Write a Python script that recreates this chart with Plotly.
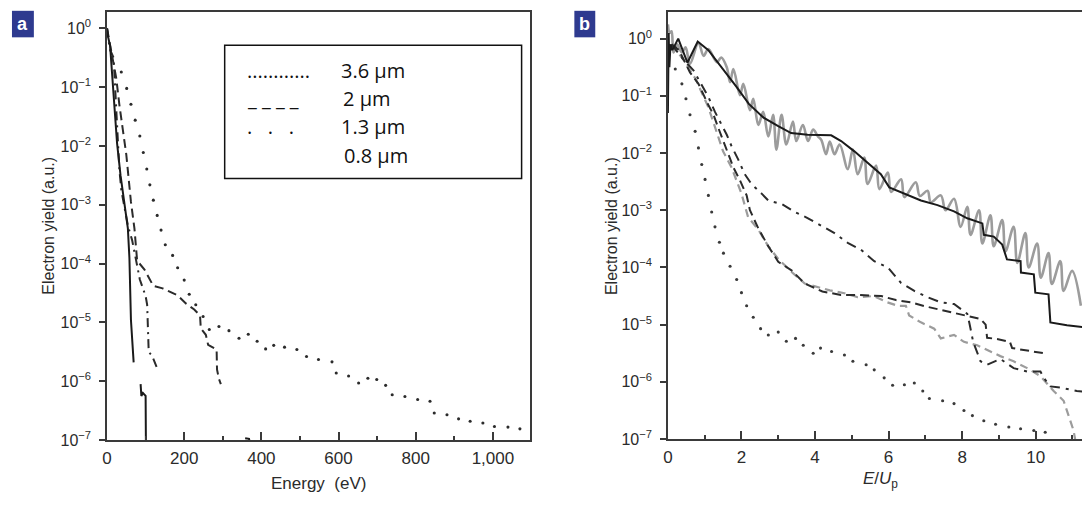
import plotly.graph_objects as go

W, H = 1082, 506


def px(x):
    return x / W


def py(y):
    return 1 - y / H


def vals(logs):
    return [None if v is None else 10 ** v for v in logs]


# ---------------- Panel a : yield vs energy (eV), exponents of 10 ----------------
a_dot36_E = [37, 51, 62, 73, 85, 94, 103, 111, 120, 130, 140, 151, 170, 183, 200, 213, 230, 249, 265,
             290, 316, 342, 366, 389, 411, 432, 460, 492, 517, 548, 583, 594, 626, 652, 676, 699, 722,
             739, 772, 805, 837, 848, 881, 911, 941, 974, 1004, 1039, 1070]
a_dot36_log = [-0.74, -1.02, -1.29, -1.56, -1.83, -2.11, -2.39, -2.66, -2.92, -3.18, -3.43, -3.68,
               -3.86, -4.07, -4.28, -4.52, -4.7, -4.9, -5.12, -5.07, -5.14, -5.27, -5.2, -5.32, -5.45,
               -5.39, -5.42, -5.46, -5.58, -5.63, -5.67, -5.86, -5.91, -6.03, -5.95, -5.97, -6.07,
               -6.23, -6.26, -6.31, -6.34, -6.54, -6.57, -6.64, -6.68, -6.71, -6.77, -6.78, -6.81]

a_dash2_E = [0, 4, 8, 16, 24, 32, 41, 50, 56, 62, 71, 75, 78, 97, 120, 144, 170, 183, 205, 226,
             241, 243, 256, 262, 284, 285, 290, 295]
a_dash2_log = [0, -0.15, -0.3, -0.6, -0.85, -1.3, -1.72, -2.15, -2.55, -2.95, -3.4, -3.75, -3.95,
               -4.1, -4.38, -4.42, -4.5, -4.54, -4.68, -4.78, -4.88, -5.1, -5.21, -5.38, -5.46,
               -5.8, -5.96, -6.05]

a_dd13_E = [0, 4, 7, 17, 22, 28, 32, 37, 44, 54, 65, 75, 80, 85, 100, 104, 106, 108, 117, 131]
a_dd13_log = [0, -0.2, -0.35, -0.5, -1.1, -1.7, -2.4, -2.75, -3.0, -3.35, -3.6, -3.9, -4.1, -4.27,
              -4.55, -4.7, -5.0, -5.5, -5.57, -5.8]

a_sol08_E = [0, 3, 8, 12, 20, 26, 35, 45, 54, 58, 62, 69, None, 87, 89, 93, 100, 101, None,
             358, 368, 372]
a_sol08_log = [0, -0.15, -0.3, -0.7, -1.4, -1.95, -2.5, -3.0, -3.4, -3.9, -4.96, -5.68, None,
               -6.05, -6.25, -6.2, -6.25, -7.3, None, -6.97, -6.98, -7.1]

a_xticks_step = 200
a_yticks = [1e-7, 1e-6, 1e-5, 1e-4, 1e-3, 1e-2, 1e-1, 1]
a_yticktext = ["10<sup>−7</sup>", "10<sup>−6</sup>", "10<sup>−5</sup>", "10<sup>−4</sup>",
               "10<sup>−3</sup>", "10<sup>−2</sup>", "10<sup>−1</sup>", "10<sup>0</sup>"]

legend_labels = ["3.6 µm", "2 µm", "1.3 µm", "0.8 µm"]
legend_samples = ["............", "_ _ _ _", ".   .   .", ""]

# ---------------- Panel b : yield vs E/Up, exponents of 10 ----------------
b_sol_x = [0, 0.02, 0.04, 0.07, 0.12, 0.28, 0.53, 0.81, 1.1, 1.46, 1.85, 2.2, 2.6, 3.0, 3.35, 3.8,
           4.17, 4.44, 4.71, 5.07, 5.43, 5.79, 6.02, 6.43, 6.88, 7.33, 7.78, 8.14, 8.55, 8.59, 8.86,
           9.09, 9.22, 9.59, 9.6, 9.95, 9.99, 10.35, 10.4, 10.85, 11.27]
b_sol_log = [-1.3, 0.1, -0.5, -0.1, -0.2, 0.0, -0.42, -0.05, -0.2, -0.5, -0.83, -1.14, -1.38,
             -1.53, -1.65, -1.68, -1.68, -1.69, -1.79, -1.97, -2.17, -2.37, -2.6, -2.71, -2.83,
             -2.91, -3.02, -3.14, -3.23, -3.43, -3.46, -3.6, -3.86, -3.89, -4.09, -4.12, -4.44,
             -4.47, -4.96, -5.01, -5.04]

b_gray_x = [0, 0.05, 0.1, 0.15, 0.25, 0.38, 0.48, 0.6, 0.83, 0.97, 1.1, 1.33, 1.45, 1.6, 1.69,
            1.78, 1.96, 2.05, 2.23, 2.32, 2.46, 2.59, 2.73, 2.86, 2.95, 3.09, 3.22, 3.4, 3.49,
            3.67, 3.81, 3.95, 4.08, 4.17, 4.3, 4.4, 4.53, 4.67, 4.89, 5.03, 5.16, 5.34, 5.43, 5.66,
            5.75, 5.98, 6.07, 6.34, 6.43, 6.74, 6.85, 7.06, 7.15, 7.42, 7.55, 7.78, 7.96, 8.14,
            8.23, 8.46, 8.55, 8.77, 8.86, 9.09, 9.18, 9.4, 9.5, 9.72, 9.81, 10.04, 10.14, 10.35,
            10.44, 10.67, 10.76, 10.99, 11.23]
b_gray_log = [0.25, 0.1, 0.13, -0.24, -0.1, -0.24, -0.15, -0.44, -0.07, -0.3, -0.18, -0.41,
              -0.33, -0.5, -0.76, -0.53, -0.99, -0.79, -1.25, -1.05, -1.51, -1.28, -1.71, -1.33,
              -1.94, -1.33, -1.85, -1.45, -1.79, -1.51, -1.79, -1.59, -1.71, -1.77, -2.02, -1.8,
              -2.02, -1.85, -2.28, -1.94, -2.37, -2.08, -2.54, -2.22, -2.63, -2.34, -2.68, -2.46,
              -2.77, -2.51, -2.75, -2.66, -2.86, -2.74, -3.0, -2.8, -3.29, -2.94, -3.43, -3.0,
              -3.58, -3.09, -3.63, -3.17, -3.72, -3.29, -3.92, -3.4, -4.0, -3.58, -4.18, -3.75,
              -4.29, -3.89, -4.41, -4.06, -4.67]

b_dash_x = [0.1, 0.3, 0.6, 0.83, 1.1, 1.24, 1.37, 1.55, 1.78, 1.96, 2.14, 2.23, 2.46, 2.73, 3.0,
            3.36, 3.72, 4.2, 4.7, 5.2, 5.8, 6.2, 6.6, 7.0, 7.6, 8.1, 8.5, 8.64, 8.68, 8.95, 9.3,
            9.36, 9.68, 10.22]
b_dash_log = [-0.1, -0.2, -0.59, -0.79, -1.16, -1.33, -1.56, -1.85, -2.25, -2.48, -2.74, -3.0,
              -3.32, -3.63, -3.9, -4.05, -4.28, -4.42, -4.48, -4.48, -4.5, -4.57, -4.61, -4.68,
              -4.77, -4.84, -4.9, -5.0, -5.23, -5.25, -5.3, -5.41, -5.44, -5.5]

b_gdash_x = [0.1, 0.4, 0.75, 1.1, 1.5, 1.73, 2.0, 2.18, 2.46, 2.73, 3.0, 3.4, 3.72, 4.1, 4.4, 4.8,
             5.16, 5.6, 5.97, 6.25, 6.47, 6.56, 6.88, 7.24, 7.42, 7.78, 8.05, 8.41, 8.77, 9.04,
             9.4, 9.77, 10.13, 10.49, 10.76, 10.94, 11.03, 11.1]
b_gdash_log = [-0.1, -0.35, -0.7, -1.2, -1.97, -2.25, -2.71, -3.12, -3.34, -3.63, -3.85, -4.1,
               -4.28, -4.35, -4.4, -4.45, -4.52, -4.5, -4.61, -4.67, -4.67, -4.84, -4.96, -5.07,
               -5.24, -5.18, -5.3, -5.36, -5.47, -5.55, -5.64, -5.76, -5.9, -6.16, -6.33, -6.68,
               -6.85, -7.1]

b_dd_x = [0.1, 0.4, 0.7, 0.92, 1.1, 1.28, 1.42, 1.6, 1.73, 1.91, 2.09, 2.27, 2.55, 2.73, 3.09,
          3.45, 3.81, 4.17, 4.53, 4.89, 5.25, 5.61, 5.98, 6.34, 6.7, 7.06, 7.42, 7.78, 8.14, 8.2,
          8.3, 8.5, 8.68, 9.04, 9.4, 9.77, 10.13, 10.22, 10.4, 10.67, 11.12, 11.3]
b_dd_log = [-0.1, -0.35, -0.56, -0.82, -1.02, -1.28, -1.45, -1.68, -1.88, -2.11, -2.37, -2.54,
            -2.71, -2.83, -2.89, -3.03, -3.14, -3.27, -3.4, -3.57, -3.69, -3.89, -4.0, -4.27,
            -4.41, -4.52, -4.61, -4.64, -4.81, -4.98, -5.3, -5.64, -5.7, -5.6, -5.76, -5.82,
            -5.82, -5.93, -6.08, -6.1, -6.16, -6.17]

b_dot_x = [0.2, 0.38, 0.49, 0.6, 0.74, 0.83, 0.92, 1.01, 1.1, 1.19, 1.28, 1.4, 1.51, 1.69, 1.87,
           2.0, 2.14, 2.32, 2.52, 2.73, 3.0, 3.22, 3.47, 3.68, 3.95, 4.15, 4.45, 4.8, 5.03, 5.39,
           5.61, 5.88, 6.11, 6.43, 6.7, 6.93, 7.11, 7.47, 7.78, 8.05, 8.28, 8.59, 8.91, 9.27,
           9.59, 9.95, 10.26]
b_dot_log = [-0.53, -0.79, -1.05, -1.33, -1.62, -1.91, -2.2, -2.46, -2.74, -3.03, -3.29, -3.56,
             -3.75, -3.98, -4.21, -4.44, -4.67, -4.87, -5.07, -5.18, -5.13, -5.29, -5.24, -5.36,
             -5.5, -5.41, -5.47, -5.53, -5.64, -5.7, -5.79, -5.93, -6.06, -6.05, -6.02, -6.16,
             -6.29, -6.33, -6.38, -6.5, -6.59, -6.68, -6.74, -6.79, -6.82, -6.85, -6.88]

b_xticks_step = 2

# ---------------- styles ----------------
INK = "#2b2b2b"
AX = "#3a3a3a"
YTICK_FONT = dict(family="Liberation Sans, Arial, sans-serif", size=16, color=INK)
XTICK_FONT = dict(family="Liberation Sans Narrow, Liberation Sans, Arial, sans-serif", size=17, color=INK)
TITLE_FONT = dict(family="Liberation Sans Narrow, Liberation Sans, Arial, sans-serif", size=17, color=INK)
YTITLE_FONT = dict(family="Liberation Sans, Arial, sans-serif", size=16, color=INK)
LEG_FONT = dict(family="Open Sans, Noto Sans, sans-serif", size=20, color="#111")

fig = go.Figure()

# panel a traces
fig.add_trace(go.Scatter(x=a_dot36_E, y=vals(a_dot36_log), mode="markers",
                         marker=dict(size=3.1, color=INK), xaxis="x", yaxis="y"))
fig.add_trace(go.Scatter(x=a_dash2_E, y=vals(a_dash2_log), mode="lines",
                         line=dict(color=INK, width=2, dash="9px,5px"), xaxis="x", yaxis="y"))
fig.add_trace(go.Scatter(x=a_dd13_E, y=vals(a_dd13_log), mode="lines",
                         line=dict(color=INK, width=2, dash="9px,5px,2px,5px"), xaxis="x", yaxis="y"))
fig.add_trace(go.Scatter(x=a_sol08_E, y=vals(a_sol08_log), mode="lines",
                         line=dict(color="#1a1a1a", width=2), xaxis="x", yaxis="y"))

# panel b traces
fig.add_trace(go.Scatter(x=b_gray_x, y=vals(b_gray_log), mode="lines",
                         line=dict(color="#9c9c9c", width=2.6, shape="spline", smoothing=1.0),
                         xaxis="x2", yaxis="y2"))
fig.add_trace(go.Scatter(x=b_gdash_x, y=vals(b_gdash_log), mode="lines",
                         line=dict(color="#9c9c9c", width=2.2, dash="8px,5px"), xaxis="x2", yaxis="y2"))
fig.add_trace(go.Scatter(x=b_dot_x, y=vals(b_dot_log), mode="markers",
                         marker=dict(size=3.1, color="#3a3a3a"), xaxis="x2", yaxis="y2"))
fig.add_trace(go.Scatter(x=b_dash_x, y=vals(b_dash_log), mode="lines",
                         line=dict(color=INK, width=2, dash="9px,5px"), xaxis="x2", yaxis="y2"))
fig.add_trace(go.Scatter(x=b_dd_x, y=vals(b_dd_log), mode="lines",
                         line=dict(color=INK, width=2, dash="10px,6px,3px,6px"), xaxis="x2", yaxis="y2"))
fig.add_trace(go.Scatter(x=b_sol_x, y=vals(b_sol_log), mode="lines",
                         line=dict(color="#1a1a1a", width=2), xaxis="x2", yaxis="y2"))

common_x = dict(showgrid=False, zeroline=False, showline=True, linecolor=AX, linewidth=1.5,
                ticks="inside", ticklen=8, tickwidth=1.5, tickcolor=AX, tickfont=XTICK_FONT,
                tickmode="linear", tick0=0, mirror=True, ticklabelstandoff=2)
common_y = dict(type="log", showgrid=False, zeroline=False, showline=True, linecolor=AX,
                linewidth=1.5, ticks="outside", ticklen=6, tickwidth=1.5, tickcolor=AX,
                tickfont=YTICK_FONT, tickmode="array", tickvals=a_yticks, ticktext=a_yticktext,
                ticklabelstandoff=5)

fig.update_layout(
    width=W, height=H, margin=dict(l=0, r=0, t=0, b=0),
    paper_bgcolor="white", plot_bgcolor="white", showlegend=False,
    separators=".,",
    xaxis=dict(common_x, domain=[px(102.5), px(527)], range=[0, 1095], anchor="y",
               dtick=a_xticks_step, tickformat=",",
               minor=dict(dtick=a_xticks_step / 2, tick0=0, ticks="inside", ticklen=4,
                          tickwidth=1.5, tickcolor=AX)),
    yaxis=dict(common_y, domain=[py(448), py(12)], range=[-7, 0.283], anchor="x", mirror=True),
    xaxis2=dict(common_x, domain=[px(666), 1.0], range=[0, 11.26], anchor="y2",
                dtick=b_xticks_step,
                minor=dict(dtick=b_xticks_step / 2, tick0=0, ticks="inside", ticklen=4,
                           tickwidth=1.5, tickcolor=AX)),
    yaxis2=dict(common_y, domain=[py(447), py(12)], range=[-7, 0.47], anchor="x2", mirror=False),
)

ann = []
# panel letters
for letter, x0, x1 in [("a", 7, 29), ("b", 572, 593)]:
    fig.add_shape(type="rect", xref="paper", yref="paper", x0=px(x0), x1=px(x1), y0=py(38), y1=py(11),
                  fillcolor="#2e3a8f", line=dict(width=0), layer="above")
    ann.append(dict(text="<b>%s</b>" % letter, x=px((x0 + x1) / 2), y=py(24.5), xref="paper", yref="paper",
                    showarrow=False, xanchor="center", yanchor="middle",
                    font=dict(family="Liberation Sans, Arial", size=18, color="white")))

# axis titles
ann.append(dict(text="Electron yield (a.u.)", x=px(44), y=py(230), xref="paper", yref="paper",
                textangle=-90, showarrow=False, xanchor="center", yanchor="middle", font=YTITLE_FONT))
ann.append(dict(text="Electron yield (a.u.)", x=px(610), y=py(230), xref="paper", yref="paper",
                textangle=-90, showarrow=False, xanchor="center", yanchor="middle", font=YTITLE_FONT))
ann.append(dict(text="Energy  (eV)", x=px(315), y=py(492), xref="paper", yref="paper",
                showarrow=False, xanchor="center", yanchor="middle", font=TITLE_FONT))
ann.append(dict(text="<i>E</i>/<i>U</i><sub>p</sub>", x=px(880), y=py(489), xref="paper", yref="paper",
                showarrow=False, xanchor="center", yanchor="middle", font=TITLE_FONT))

# legend box
fig.add_shape(type="rect", xref="paper", yref="paper", x0=px(220.7), x1=px(519), y0=py(181.7), y1=py(46),
              line=dict(color="#111", width=1.5), fillcolor="white", layer="below")
leg_y = [72, 100, 129, 158]
leg_tx = [336, 338, 336, 339]
for lab, samp, yy, tx in zip(legend_labels, legend_samples, leg_y, leg_tx):
    ann.append(dict(text=lab, x=px(tx), y=py(yy), xref="paper", yref="paper", showarrow=False,
                    xanchor="left", yanchor="middle", font=LEG_FONT))
    if samp:
        ann.append(dict(text=samp, x=px(241), y=py(yy), xref="paper", yref="paper", showarrow=False,
                        xanchor="left", yanchor="middle", font=LEG_FONT))

fig.update_layout(annotations=ann)
fig.write_html("out.html")
